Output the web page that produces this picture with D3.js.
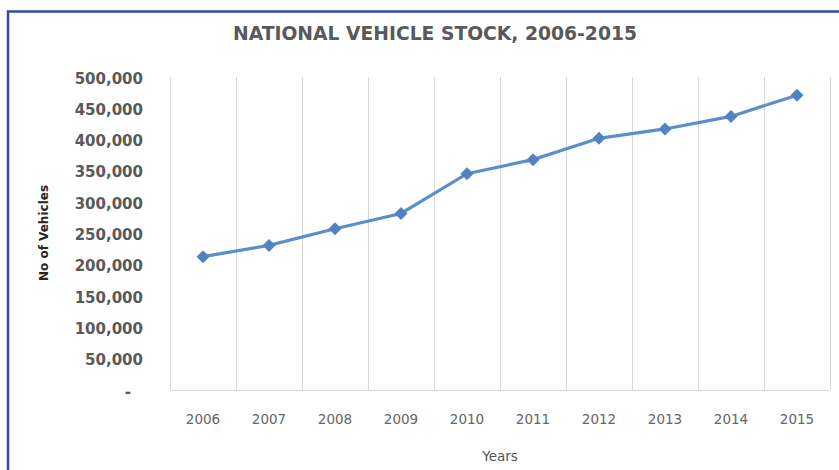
<!DOCTYPE html>
<html>
<head>
<meta charset="utf-8">
<script src="https://cdn.jsdelivr.net/npm/d3@7"></script>
<style>
    body { margin: 0; background: #fff; }
</style>
</head>
<body>
<svg id="chart"></svg>
<script>
// Chart data
const years = ["2006", "2007", "2008", "2009", "2010", "2011", "2012", "2013", "2014", "2015"];
const vehicles = [213000, 231000, 257500, 282000, 345500, 368000, 402000, 417000, 437000, 471000];
const yTicks = [0, 50000, 100000, 150000, 200000, 250000, 300000, 350000, 400000, 450000, 500000];

const svgWidth = 839;
const svgHeight = 470;
const margin = { top: 77, right: 9, bottom: 80, left: 170 };
const width = svgWidth - margin.left - margin.right;
const height = svgHeight - margin.top - margin.bottom;
const textColor = "#595959";
const font = "'DejaVu Sans', sans-serif";

const root = d3.select("#chart")
    .attr("width", svgWidth)
    .attr("height", svgHeight);

// Blue frame (top and left edges visible)
root.append("path")
    .attr("d", `M8,${svgHeight} L8,11.5 L${svgWidth},11.5`)
    .attr("fill", "none")
    .attr("stroke", "#2f4fa3")
    .attr("stroke-width", 2.5);

const svg = root.append("g")
    .attr("transform", `translate(${margin.left},${margin.top})`);

const x = d3.scaleBand()
    .domain(years)
    .range([0, width]);

const y = d3.scaleLinear()
    .domain([0, 500000])
    .range([height, 0]);

// Vertical grid lines at category boundaries
const bounds = years.map(d => x(d)).concat([width]);
svg.append("g")
    .attr("class", "grid")
    .selectAll("line")
    .data(bounds)
    .join("line")
    .attr("x1", d => d + 0.5)
    .attr("x2", d => d + 0.5)
    .attr("y1", 0)
    .attr("y2", height)
    .attr("stroke", "#d9d9d9")
    .attr("stroke-width", 1);

// X axis
const xAxis = svg.append("g")
    .attr("transform", `translate(0,${height})`)
    .call(d3.axisBottom(x).tickSize(0).tickPadding(24));
xAxis.select(".domain").attr("stroke", "#d9d9d9").attr("d", `M0,0.5H${width}`);
xAxis.selectAll("text")
    .attr("fill", "#666")
    .attr("font-family", font)
    .attr("font-size", 13.5)
    .attr("font-weight", "normal");

// Y axis
const yAxis = svg.append("g")
    .call(d3.axisLeft(y)
        .tickValues(yTicks)
        .tickSize(0)
        .tickPadding(27)
        .tickFormat(d => d === 0 ? "-" : d3.format(",")(d)));
yAxis.select(".domain").remove();
yAxis.selectAll("text")
    .attr("fill", textColor)
    .attr("font-family", font)
    .attr("font-size", 15)
    .attr("font-weight", "bold")
    .attr("dy", "0.4em")
    .attr("dx", d => d === 0 ? -12 : 0);

// Axis titles
svg.append("text")
    .attr("text-anchor", "middle")
    .attr("transform", "rotate(-90)")
    .attr("x", -(233 - margin.top))
    .attr("y", 48 - margin.left)
    .attr("fill", "#262626")
    .attr("font-family", font)
    .attr("font-size", 12)
    .attr("font-weight", "bold")
    .text("No of Vehicles");

svg.append("text")
    .attr("text-anchor", "middle")
    .attr("x", width / 2)
    .attr("y", 461 - margin.top)
    .attr("fill", "#555")
    .attr("font-family", font)
    .attr("font-size", 13.5)
    .text("Years");

// Title
root.append("text")
    .attr("text-anchor", "middle")
    .attr("x", 435)
    .attr("y", 40)
    .attr("fill", textColor)
    .attr("font-family", font)
    .attr("font-size", 19)
    .attr("font-weight", "bold")
    .attr("textLength", 404)
    .attr("lengthAdjust", "spacingAndGlyphs")
    .text("NATIONAL VEHICLE STOCK, 2006-2015");

// Line
const line = d3.line()
    .x((d, i) => x(years[i]) + x.bandwidth() / 2)
    .y(d => y(d));

svg.append("path")
    .datum(vehicles)
    .attr("fill", "none")
    .attr("stroke", "#5b8fcb")
    .attr("stroke-width", 3.2)
    .attr("d", line);

// Diamond markers
svg.selectAll(".marker")
    .data(vehicles)
    .join("path")
    .attr("class", "marker")
    .attr("transform", (d, i) => `translate(${x(years[i]) + x.bandwidth() / 2},${y(d)})`)
    .attr("d", "M0,-6.5L6.5,0L0,6.5L-6.5,0Z")
    .attr("fill", "#4f83c2");
</script>
</body>
</html>
